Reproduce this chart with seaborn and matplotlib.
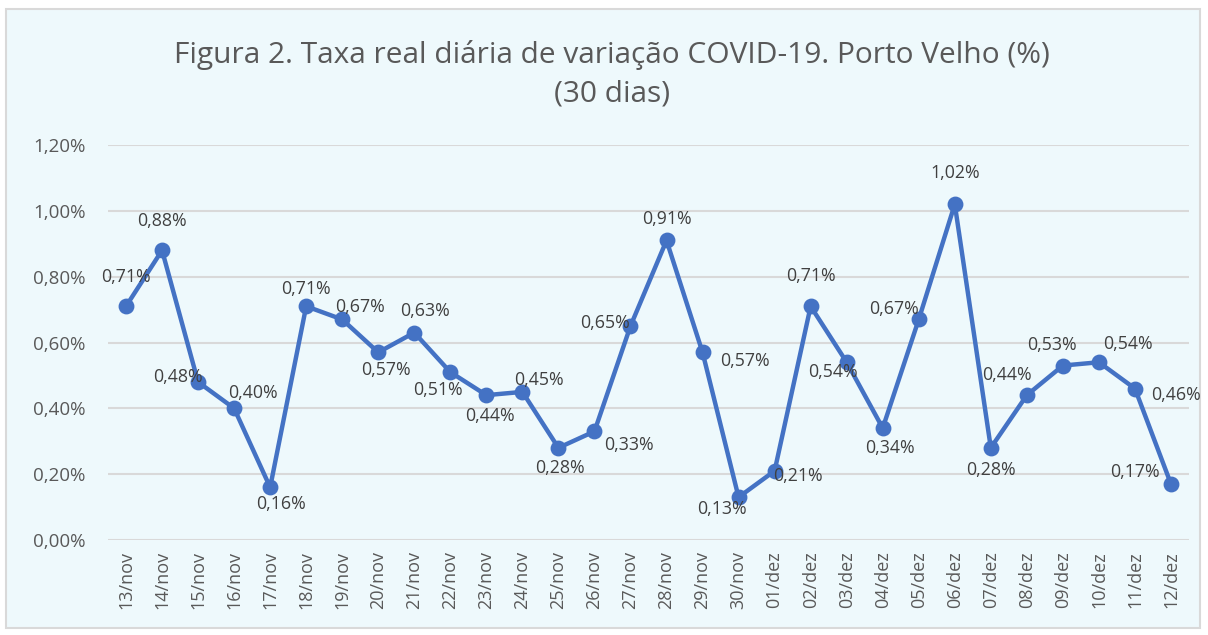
import matplotlib
matplotlib.use("Agg")
import matplotlib.pyplot as plt
import seaborn as sns
import pandas as pd
from matplotlib.patches import Rectangle

dates = ["13/nov", "14/nov", "15/nov", "16/nov", "17/nov", "18/nov", "19/nov", "20/nov",
         "21/nov", "22/nov", "23/nov", "24/nov", "25/nov", "26/nov", "27/nov", "28/nov",
         "29/nov", "30/nov", "01/dez", "02/dez", "03/dez", "04/dez", "05/dez", "06/dez",
         "07/dez", "08/dez", "09/dez", "10/dez", "11/dez", "12/dez"]
rates = [0.71, 0.88, 0.48, 0.40, 0.16, 0.71, 0.67, 0.57, 0.63, 0.51, 0.44, 0.45, 0.28, 0.33,
         0.65, 0.91, 0.57, 0.13, 0.21, 0.71, 0.54, 0.34, 0.67, 1.02, 0.28, 0.44, 0.53, 0.54,
         0.46, 0.17]
yticks = [0.0, 0.2, 0.4, 0.6, 0.8, 1.0, 1.2]

# label offsets in pixels (dx, dy with dy positive = downward in image)
label_offsets = [(0, -29), (0, -29), (-20, -5), (19, -15), (11, 17), (0, -17), (18, -12),
                 (8, 18), (11, -22), (-12, 18), (4, 21), (17, -12), (2, 20), (34, 14),
                 (-25, -3), (0, -21), (42, 9), (-17, 12), (23, 5), (0, -30), (-14, 10),
                 (7, 20), (-25, -10), (0, -31), (0, 22), (-20, -20), (-11, -21), (29, -18),
                 (41, 6), (-36, -12)]

sns.set_theme(style="white")
plt.rcParams["font.family"] = ["Open Sans", "DejaVu Sans"]

fig = plt.figure(figsize=(12.08, 6.35), dpi=100, facecolor="white")
bg = Rectangle((6 / 1208, 1 - 628 / 635), 1194 / 1208, 619 / 635, transform=fig.transFigure,
               facecolor="#eef9fc", edgecolor="#d9d9d9", linewidth=1.5, zorder=-10)
fig.patches.append(bg)

ax = fig.add_axes([108 / 1208, 1 - 540 / 635, (1189 - 108) / 1208, (540 - 145) / 635])
ax.set_facecolor("none")

df = pd.DataFrame({"data": dates, "taxa": rates})
sns.pointplot(data=df, x="data", y="taxa", order=dates, color="#4472c4", ax=ax,
              markers="o", linestyles="-", linewidth=3.2, markersize=9, zorder=3)

ax.set_xlim(-0.5, len(dates) - 0.5)
ax.set_ylim(0, 1.2)
ax.set_yticks(yticks)
ax.set_yticklabels([f"{v:.2f}%".replace(".", ",") for v in yticks], fontsize=13.5, color="#595959")
ax.set_xticks(range(len(dates)))
ax.set_xticklabels(dates, rotation=90, fontsize=13, color="#595959")
ax.tick_params(axis="y", length=0, pad=16)
ax.tick_params(axis="x", length=0, pad=8)
ax.set_xlabel("")
ax.set_ylabel("")
for s in ax.spines.values():
    s.set_visible(False)
for v in yticks:
    ax.axhline(v, color="#d9d9d9", linewidth=1.5, zorder=1)

for i, (v, (dx, dy)) in enumerate(zip(rates, label_offsets)):
    ax.annotate(f"{v:.2f}%".replace(".", ","), (i, v), xytext=(dx, -dy),
                textcoords="offset pixels", ha="center", va="center",
                fontsize=12.8, color="#404040", zorder=4)

fig.text(612 / 1208, 1 - 74 / 635,
         "Figura 2. Taxa real diária de variação COVID-19. Porto Velho (%)\n(30 dias)",
         ha="center", va="center", fontsize=21.5, color="#595959", linespacing=1.45)

fig.savefig("out.png", dpi=100, facecolor="white")
